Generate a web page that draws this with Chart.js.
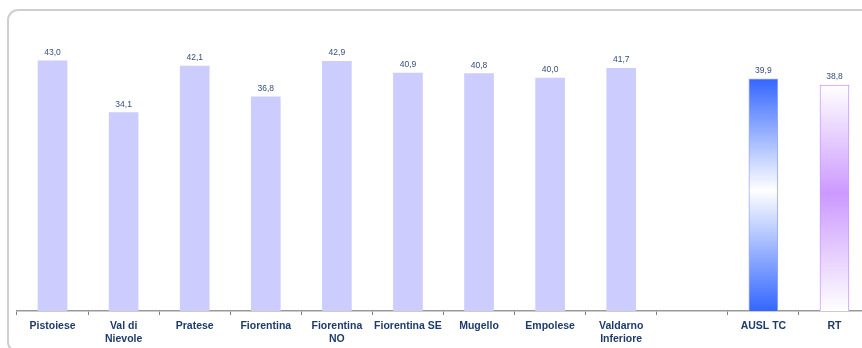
<!DOCTYPE html>
<html>
<head>
<meta charset="utf-8">
<script src="https://cdn.jsdelivr.net/npm/chart.js@4"></script>
<style>
  body { margin: 0; overflow: hidden; background: #fff; }
  #frame { position: absolute; left: 7px; top: 9px; width: 900px; height: 340px; border: 2px solid #cfcfcf; border-radius: 11px; }
  #wrap { position: absolute; left: 0; top: 0; width: 880px; height: 348px; }
</style>
</head>
<body>
<div id="frame"></div>
<div id="wrap"><canvas id="myChart"></canvas></div>
<script>
const zones  = [['Pistoiese'], ['Val di', 'Nievole'], ['Pratese'], ['Fiorentina'], ['Fiorentina', 'NO'],
                ['Fiorentina SE'], ['Mugello'], ['Empolese'], ['Valdarno', 'Inferiore'], [''], ['AUSL TC'], ['RT']];
const values = [43.0, 34.1, 42.1, 36.8, 42.9, 40.9, 40.8, 40.0, 41.7, null, 39.9, 38.8];

const FONT      = '"Liberation Sans", Arial, sans-serif';
const BAR_COLOR = '#ccccff';
// barre con sfumatura: AUSL TC e RT
const gradients = {
    10: ['#3366ff', '#ffffff', '#3366ff'],
    11: ['#ffffff', '#cc99ff', '#ffffff']
};
const borders = { 10: '#9fa8ff', 11: '#cc99ff' };

function barFill(ctx){
    const i = ctx.dataIndex;
    const chart = ctx.chart;
    if (!gradients[i] || !chart.scales.y || values[i] == null) return BAR_COLOR;
    const top    = chart.scales.y.getPixelForValue(values[i]);
    const bottom = chart.scales.y.getPixelForValue(0);
    const g = chart.ctx.createLinearGradient(0, top, 0, bottom);
    g.addColorStop(0, gradients[i][0]);
    g.addColorStop(0.48, gradients[i][1]);
    g.addColorStop(1, gradients[i][2]);
    return g;
}

const valueLabels = {
    id: 'valueLabels',
    afterDatasetsDraw(chart){
        const c = chart.ctx;
        const meta = chart.getDatasetMeta(0);
        c.save();
        c.font = '8.5px ' + FONT;
        c.fillStyle = '#34507a';
        c.textAlign = 'center';
        c.textBaseline = 'alphabetic';
        meta.data.forEach((bar, i) => {
            if (values[i] == null) return;
            c.fillText(values[i].toFixed(1).replace('.', ','), bar.x, bar.y - 6);
        });
        c.restore();
    }
};

const myChart = document.getElementById('myChart');

new Chart(myChart, {
    type: 'bar',
    data: {
        labels: zones,
        datasets: [{
            data: values,
            backgroundColor: barFill,
            borderColor: ctx => borders[ctx.dataIndex] || 'rgba(0,0,0,0)',
            borderWidth: ctx => borders[ctx.dataIndex] ? 1 : 0,
            barThickness: 29
        }]
    },
    options: {
        responsive: true,
        maintainAspectRatio: false,
        animation: false,
        layout: { padding: { top: 20, left: 17, right: 10, bottom: 0 } },
        plugins: {
            legend: { display: false },
            tooltip: { enabled: false }
        },
        scales: {
            y: { display: false, min: 0, max: 50 },
            x: {
                grid: { drawOnChartArea: false, tickLength: 4, color: '#808080', offset: true },
                border: { color: '#999999', width: 1.5 },
                ticks: {
                    color: '#1f3b6b',
                    font: { family: FONT, size: 10.5, weight: 'bold', lineHeight: 1.27 },
                    padding: 4,
                    maxRotation: 0,
                    autoSkip: false
                },
                afterFit(scale){ scale.height = 37; }
            }
        }
    },
    plugins: [valueLabels]
});
</script>
</body>
</html>
